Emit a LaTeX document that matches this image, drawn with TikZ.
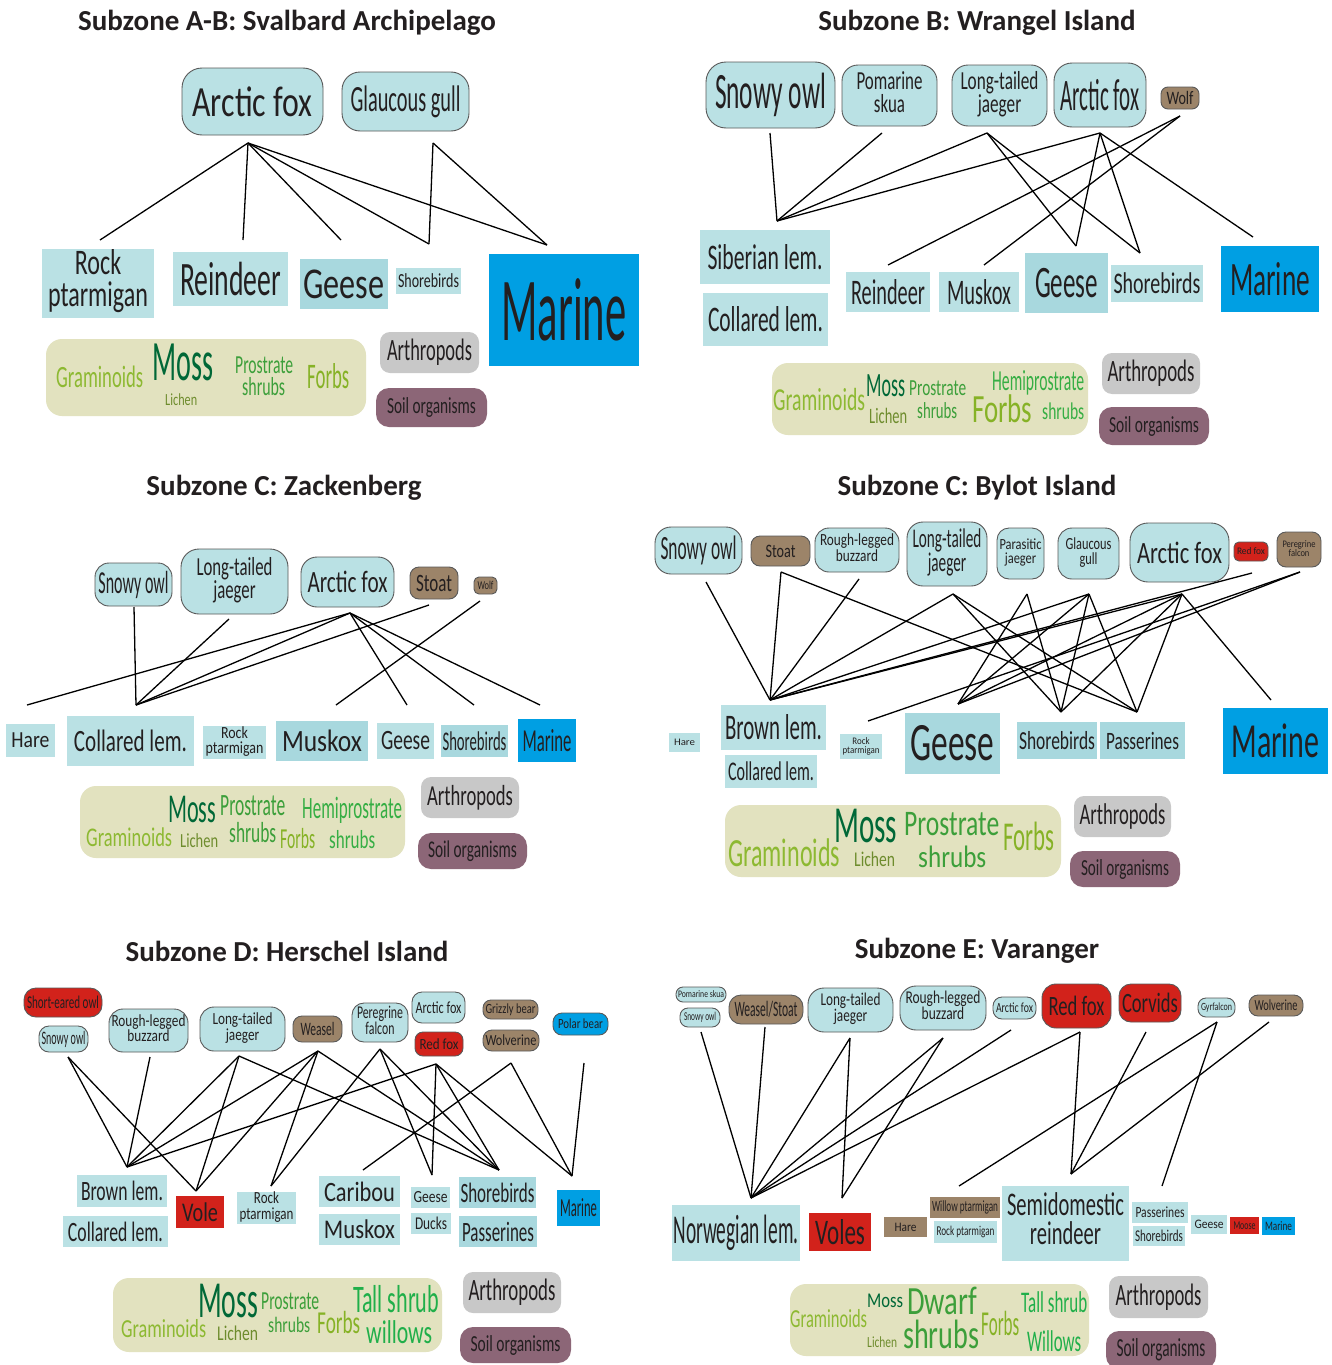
\documentclass[tikz,border=0pt]{standalone}
\usepackage{graphicx}
\usepackage{fontspec}
\setmainfont{Carlito}[FakeStretch=0.66]
\newfontfamily\titrefont{Carlito}
\definecolor{bleuclair}{HTML}{BAE1E4}
\definecolor{bleufonce}{HTML}{A8D8DE}
\definecolor{marin}{HTML}{009FE3}
\definecolor{brun}{HTML}{9C8469}
\definecolor{rouge}{HTML}{D2221B}
\definecolor{fondplante}{HTML}{E2E2BF}
\definecolor{gris}{HTML}{C8C8C8}
\definecolor{mauve}{HTML}{8C6677}
\definecolor{encre}{HTML}{231F20}
\definecolor{gram}{HTML}{8DB932}
\definecolor{mousse}{HTML}{006837}
\definecolor{lichen}{HTML}{6E8C2D}
\definecolor{arbuste}{HTML}{3C9F3A}
\definecolor{forb}{HTML}{86B226}
\definecolor{hemi}{HTML}{36AE44}
\definecolor{saule}{HTML}{20AF4A}
% largeur, taille, texte
\newcommand\lab[3]{{\fontsize{#2}{#2}\selectfont\resizebox{#1pt}{\height}{#3}}}
\newcommand\deux[2]{\begin{tabular}[t]{@{}c@{}}#1\\[-0.1em]#2\end{tabular}}

\begin{document}
\begin{tikzpicture}[x=1pt, y=-1pt,
	pred/.style={draw=black!65, line width=0.9pt, fill=bleuclair, rounded corners=#1, inner sep=0pt, text=encre},
	pred/.default=10pt,
	proie/.style={fill=bleuclair, inner sep=0pt, text=encre},
	boite/.style={rounded corners=#1, inner sep=0pt, text=encre},
	plante/.style={fill=fondplante, rounded corners=16pt, inner sep=0pt},
	mot/.style={anchor=base west, inner sep=0pt},
	lien/.style={line width=1.3pt},
	titre/.style={font=\titrefont\bfseries\fontsize{29}{29}\selectfont, text=encre}]
	\fill[white] (0,0) rectangle (1331,1365);
	\useasboundingbox (0,0) rectangle (1331,1365);

	%%%%%% Svalbard
	\node[titre] (t1) at (287,23) {Subzone A-B: Svalbard Archipelago};
	%predateurs
	\node[pred=20pt, minimum width=141pt, minimum height=67pt] (renard1) at (252.5,101.5) {\lab{120}{43}{Arctic fox}};
	\node[pred=18pt, minimum width=127pt, minimum height=59pt] (goeland1) at (405.5,101.5) {\lab{110}{37}{Glaucous gull}};
	%proies
	\node[proie, minimum width=112pt, minimum height=69pt] (lagopede1) at (98,283.5) {\lab{100}{36}{\deux{Rock}{ptarmigan}}};
	\node[proie, minimum width=115pt, minimum height=54pt] (renne1) at (230.5,279) {\lab{101}{48}{Reindeer}};
	\node[proie, fill=bleufonce, minimum width=88pt, minimum height=50pt] (oies1) at (344,284) {\lab{81}{44}{Geese}};
	\node[proie, minimum width=65pt, minimum height=26pt] (limicoles1) at (428.5,281) {\lab{61}{20}{Shorebirds}};
	\node[proie, fill=marin, minimum width=150pt, minimum height=112pt] (marin1) at (564,310) {\lab{125}{90}{Marine}};
	%plantes
	\node[plante, minimum width=320pt, minimum height=77pt] (plantes1) at (206,377.5) {};
	\node[mot, text=gram] (gram1) at (56,387) {\lab{87}{31}{Graminoids}};
	\node[mot, text=mousse] (mousse1) at (152,380) {\lab{61}{57}{Moss}};
	\node[mot, text=lichen] (lichen1) at (165,405) {\lab{32}{17}{Lichen}};
	\node[mot, text=arbuste] (prost1) at (235,373) {\lab{58}{26}{Prostrate}};
	\node[mot, text=arbuste] (arb1) at (242,395) {\lab{43}{26}{shrubs}};
	\node[mot, text=forb] (forb1) at (307,388) {\lab{42}{36}{Forbs}};
	\node[boite=10pt, fill=gris, minimum width=99pt, minimum height=41pt] (arthro1) at (429.5,352.5) {\lab{85}{31}{Arthropods}};
	\node[boite=13pt, fill=mauve, minimum width=111pt, minimum height=39pt] (sol1) at (431.5,407.5) {\lab{89}{23}{Soil organisms}};
	%liens
	\coordinate (h-renard1) at (248,143);
	\coordinate (h-goeland1) at (433,143);
	\coordinate (b-lagopede1) at (100,240);
	\coordinate (b-renne1) at (243,240);
	\coordinate (b-oies1) at (341,240);
	\coordinate (b-limicoles1) at (429,244);
	\coordinate (b-marin1) at (547,245);
	\draw[lien] (h-renard1) -- (b-lagopede1);
	\draw[lien] (h-renard1) -- (b-renne1);
	\draw[lien] (h-renard1) -- (b-oies1);
	\draw[lien] (h-renard1) -- (b-limicoles1);
	\draw[lien] (h-renard1) -- (b-marin1);
	\draw[lien] (h-goeland1) -- (b-limicoles1);
	\draw[lien] (h-goeland1) -- (b-marin1);

	%%%%%% Wrangel
	\node[titre] (t2) at (977,23) {Subzone B: Wrangel Island};
	%predateurs
	\node[pred=20pt, minimum width=129pt, minimum height=66pt] (harfang2) at (770.5,95) {\lab{111}{51}{Snowy owl}};
	\node[pred=16pt, minimum width=95pt, minimum height=61pt] (labbe2) at (889.5,95.5) {\lab{66}{26}{\deux{Pomarine}{skua}}};
	\node[pred=16pt, minimum width=95pt, minimum height=61pt] (labbelq2) at (999.5,95.5) {\lab{78}{26}{\deux{Long-tailed}{jaeger}}};
	\node[pred=18pt, minimum width=92pt, minimum height=64pt] (renard2) at (1100,95) {\lab{79}{45}{Arctic fox}};
	\node[pred=7pt, fill=brun, minimum width=38pt, minimum height=22pt] (loup2) at (1180,98) {\lab{27}{19}{Wolf}};
	%proies
	\node[proie, minimum width=130pt, minimum height=54pt] (lemsib2) at (765,257) {\lab{115}{36}{Siberian lem.}};
	\node[proie, minimum width=125pt, minimum height=53pt] (lemcol2) at (765.5,319.5) {\lab{115}{36}{Collared lem.}};
	\node[proie, minimum width=84pt, minimum height=40pt] (renne2) at (888,292) {\lab{74}{36}{Reindeer}};
	\node[proie, minimum width=80pt, minimum height=40pt] (boeuf2) at (979,292) {\lab{64}{36}{Muskox}};
	\node[proie, fill=bleufonce, minimum width=83pt, minimum height=60pt] (oies2) at (1066.5,283) {\lab{63}{45}{Geese}};
	\node[proie, minimum width=92pt, minimum height=37pt] (limicoles2) at (1157,283.5) {\lab{87}{30}{Shorebirds}};
	\node[proie, fill=marin, minimum width=98pt, minimum height=66pt] (marin2) at (1270,279) {\lab{80}{48}{Marine}};
	%plantes
	\node[plante, minimum width=316pt, minimum height=72pt] (plantes2) at (930,399) {};
	\node[mot, text=gram] (gram2) at (773,410) {\lab{92}{32}{Graminoids}};
	\node[mot, text=mousse] (mousse2) at (866,396) {\lab{39}{34}{Moss}};
	\node[mot, text=lichen] (lichen2) at (869,423) {\lab{38}{22}{Lichen}};
	\node[mot, text=arbuste] (prost2) at (909,395) {\lab{57}{23}{Prostrate}};
	\node[mot, text=arbuste] (arb2) at (917,418) {\lab{40}{23}{shrubs}};
	\node[mot, text=hemi] (hemi2) at (992,390) {\lab{92}{29}{Hemiprostrate}};
	\node[mot, text=forb] (forb2) at (972,422) {\lab{60}{40}{Forbs}};
	\node[mot, text=hemi] (arbh2) at (1042,419) {\lab{42}{24}{shrubs}};
	\node[boite=10pt, fill=gris, minimum width=98pt, minimum height=41pt] (arthro2) at (1151,373.5) {\lab{87}{31}{Arthropods}};
	\node[boite=13pt, fill=mauve, minimum width=110pt, minimum height=38pt] (sol2) at (1154,426) {\lab{90}{23}{Soil organisms}};
	%liens
	\coordinate (h-harfang2) at (770,133);
	\coordinate (h-labbe2) at (882,133);
	\coordinate (h-labbelq2) at (987,133);
	\coordinate (h-renard2) at (1100,133);
	\coordinate (h-loup2) at (1180,116);
	\coordinate (b-lem2) at (777,221);
	\coordinate (b-renne2) at (888,265);
	\coordinate (b-boeuf2) at (984,265);
	\coordinate (b-oies2) at (1076,246);
	\coordinate (b-limicoles2) at (1140,253);
	\coordinate (b-marin2) at (1253,237);
	\draw[lien] (h-harfang2) -- (b-lem2);
	\draw[lien] (h-labbe2) -- (b-lem2);
	\draw[lien] (h-labbelq2) -- (b-lem2);
	\draw[lien] (h-labbelq2) -- (b-oies2);
	\draw[lien] (h-labbelq2) -- (b-limicoles2);
	\draw[lien] (h-renard2) -- (b-lem2);
	\draw[lien] (h-renard2) -- (b-oies2);
	\draw[lien] (h-renard2) -- (b-limicoles2);
	\draw[lien] (h-renard2) -- (b-marin2);
	\draw[lien] (h-loup2) -- (b-renne2);
	\draw[lien] (h-loup2) -- (b-boeuf2);

	%%%%%% Zackenberg
	\node[titre] (t3) at (284,488) {Subzone C: Zackenberg};
	%predateurs
	\node[pred=14pt, minimum width=77pt, minimum height=43pt] (harfang3) at (133.5,584.5) {\lab{70}{32}{Snowy owl}};
	\node[pred=18pt, minimum width=107pt, minimum height=65pt] (labbe3) at (234.5,581.5) {\lab{76}{26}{\deux{Long-tailed}{jaeger}}};
	\node[pred=16pt, minimum width=93pt, minimum height=50pt] (renard3) at (347.5,582) {\lab{80}{31}{Arctic fox}};
	\node[pred=9pt, fill=brun, minimum width=48pt, minimum height=32pt] (hermine3) at (434,583) {\lab{36}{25}{Stoat}};
	\node[pred=5pt, fill=brun, minimum width=23pt, minimum height=17pt] (loup3) at (485.5,585.5) {\lab{16}{12}{Wolf}};
	%proies
	\node[proie, minimum width=49pt, minimum height=33pt] (lievre3) at (30.5,740.5) {\lab{38}{23}{Hare}};
	\node[proie, minimum width=127pt, minimum height=50pt] (lemcol3) at (130.5,741) {\lab{113}{31}{Collared lem.}};
	\node[proie, minimum width=63pt, minimum height=33pt] (lagopede3) at (234.5,742.5) {\lab{58}{17}{\deux{Rock}{ptarmigan}}};
	\node[proie, fill=bleufonce, minimum width=92pt, minimum height=40pt] (boeuf3) at (322,741) {\lab{80}{31}{Muskox}};
	\node[proie, minimum width=57pt, minimum height=36pt] (oies3) at (405.5,741) {\lab{49}{28}{Geese}};
	\node[proie, fill=bleufonce, minimum width=67pt, minimum height=32pt] (limicoles3) at (474.5,741) {\lab{64}{27}{Shorebirds}};
	\node[proie, fill=marin, minimum width=58pt, minimum height=43pt] (marin3) at (547,740.5) {\lab{49}{32}{Marine}};
	%plantes
	\node[plante, minimum width=325pt, minimum height=72pt] (plantes3) at (242.5,822) {};
	\node[mot, text=mousse] (mousse3) at (168,822) {\lab{48}{41}{Moss}};
	\node[mot, text=arbuste] (prost3) at (220,815) {\lab{65}{31}{Prostrate}};
	\node[mot, text=hemi] (hemi3) at (302,818) {\lab{100}{31}{Hemiprostrate}};
	\node[mot, text=gram] (gram3) at (86,846) {\lab{86}{27}{Graminoids}};
	\node[mot, text=lichen] (lichen3) at (180,847) {\lab{38}{20}{Lichen}};
	\node[mot, text=arbuste] (arb3) at (229,842) {\lab{47}{29}{shrubs}};
	\node[mot, text=forb] (forb3) at (280,848) {\lab{35}{29}{Forbs}};
	\node[mot, text=hemi] (arbh3) at (329,848) {\lab{46}{26}{shrubs}};
	\node[boite=10pt, fill=gris, minimum width=98pt, minimum height=41pt] (arthro3) at (470,797.5) {\lab{86}{29}{Arthropods}};
	\node[boite=13pt, fill=mauve, minimum width=109pt, minimum height=36pt] (sol3) at (472.5,851) {\lab{89}{24}{Soil organisms}};
	%liens
	\coordinate (h-harfang3) at (134,607);
	\coordinate (h-labbe3) at (229,619);
	\coordinate (h-renard3) at (350,613);
	\coordinate (h-hermine3) at (429,605);
	\coordinate (h-loup3) at (480,601);
	\coordinate (b-lievre3) at (27,705);
	\coordinate (b-lem3) at (136,705);
	\coordinate (b-boeuf3) at (336,705);
	\coordinate (b-oies3) at (407,705);
	\coordinate (b-limicoles3) at (474,705);
	\coordinate (b-marin3) at (540,705);
	\draw[lien] (h-harfang3) -- (b-lem3);
	\draw[lien] (h-labbe3) -- (b-lem3);
	\draw[lien] (h-renard3) -- (b-lievre3);
	\draw[lien] (h-renard3) -- (b-lem3);
	\draw[lien] (h-renard3) -- (b-oies3);
	\draw[lien] (h-renard3) -- (b-limicoles3);
	\draw[lien] (h-renard3) -- (b-marin3);
	\draw[lien] (h-hermine3) -- (b-lem3);
	\draw[lien] (h-loup3) -- (b-boeuf3);

	%%%%%% Bylot
	\node[titre] (t4) at (977,488) {Subzone C: Bylot Island};
	%predateurs
	\node[pred=16pt, minimum width=87pt, minimum height=47pt] (harfang4) at (698.5,550.5) {\lab{76}{34}{Snowy owl}};
	\node[pred=9pt, fill=brun, minimum width=59pt, minimum height=30pt] (hermine4) at (780.5,551) {\lab{30}{19}{Stoat}};
	\node[pred=14pt, minimum width=84pt, minimum height=44pt] (buse4) at (857,550) {\lab{74}{17}{\deux{Rough-legged}{buzzard}}};
	\node[pred=16pt, minimum width=80pt, minimum height=64pt] (labbelq4) at (947,554) {\lab{69}{27}{\deux{Long-tailed}{jaeger}}};
	\node[pred=12pt, minimum width=47pt, minimum height=51pt] (labbep4) at (1020.5,553.5) {\lab{42}{15.5}{\deux{Parasitic}{jaeger}}};
	\node[pred=14pt, minimum width=61pt, minimum height=51pt] (goeland4) at (1088.5,553.5) {\lab{46}{17}{\deux{Glaucous}{gull}}};
	\node[pred=18pt, minimum width=99pt, minimum height=59pt] (renard4) at (1179.5,552.5) {\lab{85}{31}{Arctic fox}};
	\node[pred=5pt, fill=rouge, minimum width=34pt, minimum height=19pt] (renardr4) at (1251,551.5) {\lab{28}{10}{Red fox}};
	\node[pred=9pt, fill=brun, minimum width=44pt, minimum height=35pt] (faucon4) at (1299,549.5) {\lab{33}{10}{\deux{Peregrine}{falcon}}};
	%proies
	\node[proie, minimum width=31pt, minimum height=19pt] (lievre4) at (684.5,742.5) {\lab{21}{10}{Hare}};
	\node[proie, minimum width=105pt, minimum height=45pt] (lembrun4) at (773.5,727.5) {\lab{97}{36}{Brown lem.}};
	\node[proie, minimum width=92pt, minimum height=33pt] (lemcol4) at (771,771.5) {\lab{86}{27}{Collared lem.}};
	\node[proie, minimum width=42pt, minimum height=25pt] (lagopede4) at (861,746.5) {\lab{37}{10}{\deux{Rock}{ptarmigan}}};
	\node[proie, fill=bleufonce, minimum width=95pt, minimum height=61pt] (oies4) at (952.5,743.5) {\lab{84}{54}{Geese}};
	\node[proie, fill=bleufonce, minimum width=80pt, minimum height=37pt] (limicoles4) at (1057,740.5) {\lab{76}{26}{Shorebirds}};
	\node[proie, fill=bleufonce, minimum width=85pt, minimum height=37pt] (passereaux4) at (1142.5,740.5) {\lab{73}{25}{Passerines}};
	\node[proie, fill=marin, minimum width=105pt, minimum height=66pt] (marin4) at (1275.5,741) {\lab{88}{49}{Marine}};
	%plantes
	\node[plante, minimum width=336pt, minimum height=72pt] (plantes4) at (893,841) {};
	\node[mot, text=gram] (gram4) at (728,866) {\lab{112}{40}{Graminoids}};
	\node[mot, text=mousse] (mousse4) at (834,842) {\lab{63}{52}{Moss}};
	\node[mot, text=lichen] (lichen4) at (854,866) {\lab{41}{21}{Lichen}};
	\node[mot, text=arbuste] (prost4) at (904,835) {\lab{95}{36}{Prostrate}};
	\node[mot, text=arbuste] (arb4) at (918,867) {\lab{68}{31}{shrubs}};
	\node[mot, text=forb] (forb4) at (1003,850) {\lab{51}{41}{Forbs}};
	\node[boite=10pt, fill=gris, minimum width=97pt, minimum height=41pt] (arthro4) at (1122.5,816.5) {\lab{86}{30}{Arthropods}};
	\node[boite=13pt, fill=mauve, minimum width=110pt, minimum height=36pt] (sol4) at (1125,869) {\lab{88}{23}{Soil organisms}};
	%liens
	\coordinate (h-harfang4) at (706,582);
	\coordinate (h-hermine4) at (781,572);
	\coordinate (h-buse4) at (859,579);
	\coordinate (h-labbelq4) at (953,594);
	\coordinate (h-labbep4) at (1027,594);
	\coordinate (h-goeland4) at (1089,594);
	\coordinate (h-renard4) at (1182,594);
	\coordinate (h-renardr4) at (1252,573);
	\coordinate (h-faucon4) at (1300,572);
	\coordinate (b-lem4) at (770,700);
	\coordinate (b-lagopede4) at (868,721);
	\coordinate (b-oies4) at (958,704);
	\coordinate (b-limicoles4) at (1061,712);
	\coordinate (b-passereaux4) at (1137,712);
	\coordinate (b-marin4) at (1271,700);
	\draw[lien] (h-harfang4) -- (b-lem4);
	\draw[lien] (h-hermine4) -- (b-lem4);
	\draw[lien] (h-hermine4) -- (b-passereaux4);
	\draw[lien] (h-buse4) -- (b-lem4);
	\draw[lien] (h-labbelq4) -- (b-lem4);
	\draw[lien] (h-labbelq4) -- (b-limicoles4);
	\draw[lien] (h-labbelq4) -- (b-passereaux4);
	\draw[lien] (h-labbep4) -- (b-oies4);
	\draw[lien] (h-labbep4) -- (b-limicoles4);
	\draw[lien] (h-goeland4) -- (b-lem4);
	\draw[lien] (h-goeland4) -- (b-oies4);
	\draw[lien] (h-goeland4) -- (b-limicoles4);
	\draw[lien] (h-goeland4) -- (b-passereaux4);
	\draw[lien] (h-renard4) -- (b-lem4);
	\draw[lien] (h-renard4) -- (b-oies4);
	\draw[lien] (h-renard4) -- (b-limicoles4);
	\draw[lien] (h-renard4) -- (b-passereaux4);
	\draw[lien] (h-renard4) -- (b-marin4);
	\draw[lien] (h-renardr4) -- (b-lem4);
	\draw[lien] (h-faucon4) -- (b-oies4);
	\draw[lien] (h-faucon4) -- (b-lagopede4);

	%%%%%% Herschel
	\node[titre] (t5) at (287,951) {Subzone D: Herschel Island};
	%predateurs
	\node[pred=12pt, fill=rouge, minimum width=78pt, minimum height=29pt] (hibou5) at (63,1002.5) {\lab{72}{18}{Short-eared owl}};
	\node[pred=10pt, minimum width=49pt, minimum height=26pt] (harfang5) at (63.5,1039) {\lab{44}{19}{Snowy owl}};
	\node[pred=14pt, minimum width=79pt, minimum height=43pt] (buse5) at (148.5,1030.5) {\lab{74}{17}{\deux{Rough-legged}{buzzard}}};
	\node[pred=14pt, minimum width=85pt, minimum height=44pt] (labbe5) at (242.5,1029) {\lab{60}{17}{\deux{Long-tailed}{jaeger}}};
	\node[pred=9pt, fill=brun, minimum width=49pt, minimum height=26pt] (belette5) at (317.5,1029) {\lab{34}{19}{Weasel}};
	\node[pred=12pt, minimum width=56pt, minimum height=39pt] (faucon5) at (380,1022.5) {\lab{46}{18}{\deux{Peregrine}{falcon}}};
	\node[pred=10pt, minimum width=53pt, minimum height=31pt] (renard5) at (438.5,1007.5) {\lab{46}{17}{Arctic fox}};
	\node[pred=8pt, fill=rouge, minimum width=48pt, minimum height=24pt] (renardr5) at (439,1044) {\lab{39}{15.5}{Red fox}};
	\node[pred=8pt, fill=brun, minimum width=55pt, minimum height=19pt] (grizzli5) at (510.5,1009.5) {\lab{50}{14}{Grizzly bear}};
	\node[pred=9pt, fill=brun, minimum width=56pt, minimum height=21pt] (carcajou5) at (511,1040.5) {\lab{51}{15.5}{Wolverine}};
	\node[pred=9pt, fill=marin, minimum width=55pt, minimum height=22pt] (ours5) at (580.5,1024) {\lab{45}{14}{Polar bear}};
	%proies
	\node[proie, minimum width=90pt, minimum height=32pt] (lembrun5) at (122,1191) {\lab{82}{28}{Brown lem.}};
	\node[proie, minimum width=105pt, minimum height=31pt] (lemcol5) at (115.5,1231.5) {\lab{95}{28}{Collared lem.}};
	\node[proie, fill=rouge, minimum width=48pt, minimum height=32pt] (campagnol5) at (200,1212) {\lab{36}{27}{Vole}};
	\node[proie, minimum width=59pt, minimum height=32pt] (lagopede5) at (266.5,1208) {\lab{54}{17}{\deux{Rock}{ptarmigan}}};
	\node[proie, minimum width=81pt, minimum height=31pt] (caribou5) at (359.5,1191.5) {\lab{71}{28}{Caribou}};
	\node[proie, minimum width=81pt, minimum height=31pt] (boeuf5) at (359.5,1229.5) {\lab{71}{27}{Muskox}};
	\node[proie, minimum width=39pt, minimum height=21pt] (oies5) at (430.5,1197.5) {\lab{34}{17}{Geese}};
	\node[proie, minimum width=40pt, minimum height=21pt] (canards5) at (431,1223.5) {\lab{32}{18}{Ducks}};
	\node[proie, fill=bleufonce, minimum width=77pt, minimum height=31pt] (limicoles5) at (497.5,1192.5) {\lab{74}{28}{Shorebirds}};
	\node[proie, fill=bleufonce, minimum width=78pt, minimum height=31pt] (passereaux5) at (498,1231.5) {\lab{72}{28}{Passerines}};
	\node[proie, fill=marin, minimum width=43pt, minimum height=36pt] (marin5) at (578.5,1208) {\lab{37}{26}{Marine}};
	%plantes
	\node[plante, minimum width=329pt, minimum height=74pt] (plantes5) at (277.5,1315) {};
	\node[mot, text=mousse] (mousse5) at (198,1317) {\lab{60}{52}{Moss}};
	\node[mot, text=arbuste] (prost5) at (261,1309) {\lab{58}{26}{Prostrate}};
	\node[mot, text=arbuste] (arb5) at (268,1332) {\lab{42}{22}{shrubs}};
	\node[mot, text=forb] (forb5) at (317,1333) {\lab{43}{32}{Forbs}};
	\node[mot, text=saule] (grand5) at (353,1312) {\lab{86}{39}{Tall shrub}};
	\node[mot, text=saule] (saules5) at (366,1343) {\lab{66}{33}{willows}};
	\node[mot, text=gram] (gram5) at (121,1337) {\lab{85}{26}{Graminoids}};
	\node[mot, text=lichen] (lichen5) at (217,1340) {\lab{41}{21}{Lichen}};
	\node[boite=10pt, fill=gris, minimum width=98pt, minimum height=41pt] (arthro5) at (512,1292.5) {\lab{87}{31}{Arthropods}};
	\node[boite=13pt, fill=mauve, minimum width=111pt, minimum height=36pt] (sol5) at (515.5,1345) {\lab{90}{23}{Soil organisms}};
	%liens
	\coordinate (h-harfang5) at (68,1057);
	\coordinate (h-buse5) at (150,1057);
	\coordinate (h-labbe5) at (239,1056);
	\coordinate (h-belette5) at (318,1051);
	\coordinate (h-faucon5) at (380,1049);
	\coordinate (h-renardr5) at (436,1064);
	\coordinate (h-carcajou5) at (511,1063);
	\coordinate (h-ours5) at (584,1063);
	\coordinate (b-lem5) at (127,1167);
	\coordinate (b-campagnol5) at (196,1191);
	\coordinate (b-lagopede5) at (271,1186);
	\coordinate (b-caribou5) at (363,1170);
	\coordinate (b-oies5) at (432,1175);
	\coordinate (b-limicoles5) at (499,1170);
	\coordinate (b-marin5) at (572,1176);
	\draw[lien] (h-harfang5) -- (b-lem5);
	\draw[lien] (h-harfang5) -- (b-campagnol5);
	\draw[lien] (h-buse5) -- (b-lem5);
	\draw[lien] (h-labbe5) -- (b-lem5);
	\draw[lien] (h-labbe5) -- (b-campagnol5);
	\draw[lien] (h-labbe5) -- (b-limicoles5);
	\draw[lien] (h-belette5) -- (b-lem5);
	\draw[lien] (h-belette5) -- (b-campagnol5);
	\draw[lien] (h-belette5) -- (b-lagopede5);
	\draw[lien] (h-belette5) -- (b-limicoles5);
	\draw[lien] (h-faucon5) -- (b-lagopede5);
	\draw[lien] (h-faucon5) -- (b-oies5);
	\draw[lien] (h-faucon5) -- (b-limicoles5);
	\draw[lien] (h-renardr5) -- (b-lem5);
	\draw[lien] (h-renardr5) -- (b-oies5);
	\draw[lien] (h-renardr5) -- (b-limicoles5);
	\draw[lien] (h-renardr5) -- (b-marin5);
	\draw[lien] (h-carcajou5) -- (b-caribou5);
	\draw[lien] (h-carcajou5) -- (b-marin5);
	\draw[lien] (h-ours5) -- (b-marin5);

	%%%%%% Varanger
	\node[titre] (t6) at (977,951) {Subzone E: Varanger};
	%predateurs
	\node[pred=7pt, minimum width=50pt, minimum height=15pt] (labbep6) at (701,994.5) {\lab{46}{10}{Pomarine skua}};
	\node[pred=8pt, minimum width=40pt, minimum height=19pt] (harfang6) at (700,1017.5) {\lab{32}{12}{Snowy owl}};
	\node[pred=12pt, fill=brun, minimum width=74pt, minimum height=29pt] (belette6) at (766,1009.5) {\lab{63}{22}{Weasel/Stoat}};
	\node[pred=16pt, minimum width=85pt, minimum height=44pt] (labbe6) at (850.5,1010) {\lab{60}{18}{\deux{Long-tailed}{jaeger}}};
	\node[pred=16pt, minimum width=86pt, minimum height=44pt] (buse6) at (943,1008) {\lab{75}{18}{\deux{Rough-legged}{buzzard}}};
	\node[pred=9pt, minimum width=43pt, minimum height=22pt] (renard6) at (1014.5,1008) {\lab{37}{14}{Arctic fox}};
	\node[pred=14pt, fill=rouge, minimum width=69pt, minimum height=44pt] (renardr6) at (1076.5,1006) {\lab{56}{28}{Red fox}};
	\node[pred=12pt, fill=rouge, minimum width=62pt, minimum height=38pt] (corvides6) at (1150,1003) {\lab{56}{28}{Corvids}};
	\node[pred=8pt, minimum width=37pt, minimum height=19pt] (gerfaut6) at (1216.5,1007.5) {\lab{31}{11}{Gyrfalcon}};
	\node[pred=9pt, fill=brun, minimum width=54pt, minimum height=21pt] (carcajou6) at (1276,1005.5) {\lab{43}{15.5}{Wolverine}};
	%proies
	\node[proie, minimum width=128pt, minimum height=56pt] (lemnor6) at (736,1233) {\lab{125}{41}{Norwegian lem.}};
	\node[proie, fill=rouge, minimum width=62pt, minimum height=38pt] (campagnols6) at (840,1232) {\lab{50}{36}{Voles}};
	\node[proie, fill=brun, minimum width=43pt, minimum height=20pt] (lievre6) at (905.5,1227) {\lab{22}{13}{Hare}};
	\node[proie, fill=brun, minimum width=70pt, minimum height=21pt] (lagopedes6) at (965,1207.5) {\lab{66}{15.5}{Willow ptarmigan}};
	\node[proie, minimum width=63pt, minimum height=22pt] (lagopede6) at (965.5,1232) {\lab{58}{13.5}{Rock ptarmigan}};
	\node[proie, minimum width=127pt, minimum height=75pt] (renne6) at (1065.5,1223.5) {\lab{117}{33}{\deux{Semidomestic}{reindeer}}};
	\node[proie, minimum width=56pt, minimum height=21pt] (passereaux6) at (1160,1212.5) {\lab{49}{15.5}{Passerines}};
	\node[proie, minimum width=52pt, minimum height=20pt] (limicoles6) at (1159,1236) {\lab{48}{16.5}{Shorebirds}};
	\node[proie, minimum width=36pt, minimum height=19pt] (oies6) at (1209,1224.5) {\lab{29}{13}{Geese}};
	\node[proie, fill=rouge, minimum width=29pt, minimum height=17pt] (elan6) at (1244.5,1225.5) {\lab{22}{12}{Moose}};
	\node[proie, fill=marin, minimum width=33pt, minimum height=18pt] (marin6) at (1278.5,1226) {\lab{27}{13}{Marine}};
	%plantes
	\node[plante, minimum width=299pt, minimum height=72pt] (plantes6) at (939.5,1320) {};
	\node[mot, text=gram] (gram6) at (790,1327) {\lab{77}{26}{Graminoids}};
	\node[mot, text=mousse] (mousse6) at (867,1307) {\lab{36}{21}{Moss}};
	\node[mot, text=arbuste] (nain6) at (907,1314) {\lab{70}{40}{Dwarf}};
	\node[mot, text=arbuste] (arb6) at (903,1348) {\lab{76}{41}{shrubs}};
	\node[mot, text=lichen] (lichen6) at (867,1347) {\lab{30}{15.5}{Lichen}};
	\node[mot, text=forb] (forb6) at (981,1335) {\lab{38}{35}{Forbs}};
	\node[mot, text=saule] (grand6) at (1021,1312) {\lab{66}{30}{Tall shrub}};
	\node[mot, text=saule] (saules6) at (1027,1351) {\lab{54}{30}{Willows}};
	\node[boite=10pt, fill=gris, minimum width=99pt, minimum height=42pt] (arthro6) at (1158.5,1297) {\lab{86}{31}{Arthropods}};
	\node[boite=13pt, fill=mauve, minimum width=110pt, minimum height=38pt] (sol6) at (1161,1350) {\lab{89}{26}{Soil organisms}};
	%liens
	\coordinate (h-harfang6) at (701,1032);
	\coordinate (h-belette6) at (765,1027);
	\coordinate (h-labbe6) at (850,1038);
	\coordinate (h-buse6) at (943,1038);
	\coordinate (h-renard6) at (1011,1030);
	\coordinate (h-renardr6) at (1080,1032);
	\coordinate (h-corvides6) at (1146,1032);
	\coordinate (h-gerfaut6) at (1217,1022);
	\coordinate (h-carcajou6) at (1269,1022);
	\coordinate (b-lem6) at (751,1198);
	\coordinate (b-campagnols6) at (842,1198);
	\coordinate (b-lagopedes6) at (959,1186);
	\coordinate (b-renne6) at (1071,1174);
	\coordinate (b-passereaux6) at (1162,1186);
	\draw[lien] (h-harfang6) -- (b-lem6);
	\draw[lien] (h-belette6) -- (b-lem6);
	\draw[lien] (h-labbe6) -- (b-lem6);
	\draw[lien] (h-labbe6) -- (b-campagnols6);
	\draw[lien] (h-buse6) -- (b-lem6);
	\draw[lien] (h-buse6) -- (b-campagnols6);
	\draw[lien] (h-renard6) -- (b-lem6);
	\draw[lien] (h-renardr6) -- (b-lem6);
	\draw[lien] (h-renardr6) -- (b-renne6);
	\draw[lien] (h-corvides6) -- (b-renne6);
	\draw[lien] (h-gerfaut6) -- (b-lagopedes6);
	\draw[lien] (h-gerfaut6) -- (b-passereaux6);
	\draw[lien] (h-carcajou6) -- (b-renne6);
\end{tikzpicture}
\end{document}
